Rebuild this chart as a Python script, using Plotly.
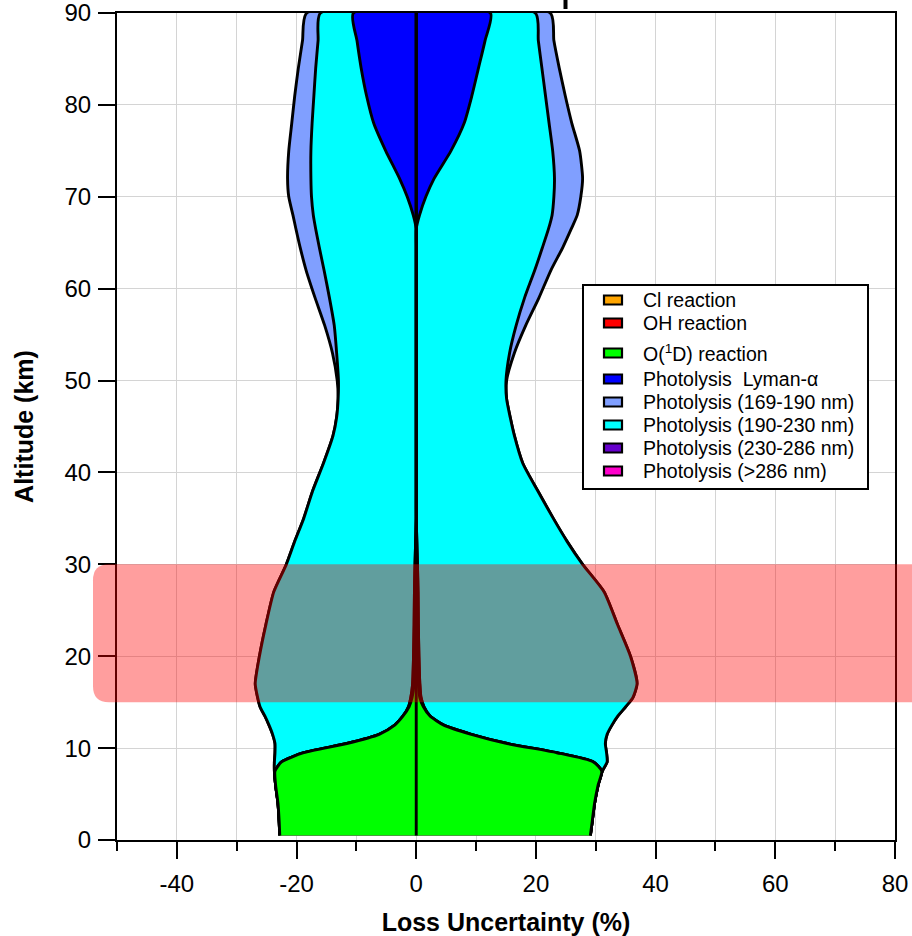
import numpy as np
import plotly.graph_objects as go

# ---------------- data ----------------
altitude_km = [0.5, 2, 4, 6, 7.5, 8.5, 9.5, 10.5, 11.5, 12.5, 13.5, 14.5, 15.5, 17, 20,
               23.5, 27, 30, 32.5, 35, 38, 41, 44, 46, 48, 50, 53, 56, 59, 62, 64.5,
               66.5, 68, 70, 72, 75, 78, 81, 84, 87, 90]

# contributions to the loss uncertainty (%), negative side (L) and positive side (R)
o1d_L = [22.8, 22.9, 23.1, 23.5, 23.6, 22.5, 18.8, 11.6, 6.2, 3.6, 2.2, 1.2, 0.7, 0.35,
         0.2, 0.1, 0.05] + [0] * 24
o1d_R = [29.1, 29.4, 29.8, 30.4, 31.0, 29.6, 23.5, 15.2, 9.2, 4.6, 2.3, 1.2, 0.6, 0.35,
         0.2, 0.1, 0.05] + [0] * 24
oh_L = [0] * 11 + [0.1, 0.2, 0.25, 0.25, 0.25, 0.25, 0.2, 0.1] + [0] * 22
oh_R = list(oh_L)
cl_L = [0] * 41
cl_R = [0] * 41
lya_L = [0] * 32 + [0.5, 1.5, 2.8, 5.1, 7.1, 8.3, 9.2, 9.9, 10.5]
lya_R = [0] * 32 + [0.55, 1.6, 3.0, 5.8, 8.0, 9.3, 10.4, 11.5, 12.4]
p190_230_L = [0, 0, 0, 0, 0.1, 1.2, 4.8, 12.0, 17.8, 21.0, 23.1, 24.8, 25.6, 26.3, 25.75,
              24.75, 23.5, 21.5, 20.2, 18.8, 17.3, 15.5, 13.9, 13.3, 13.05, 13.0, 13.3,
              13.7, 14.5, 15.4, 16.2, 16.8, 16.7, 16.0, 14.8, 12.5, 10.3, 8.8, 7.6, 6.5, 5.5]
p190_230_R = [0, 0, 0, 0, 0.1, 2.3, 8.3, 16.4, 22.7, 28.1, 31.4, 33.7, 35.4, 36.3, 35.35,
              33.25, 31.1, 27.6, 25.1, 22.9, 20.3, 17.8, 16.4, 15.7, 15.1, 15.0, 15.6,
              16.7, 18.1, 19.8, 21.1, 22.1, 22.15, 21.4, 20.1, 17.0, 14.2, 12.3, 10.6, 8.9, 7.5]
p169_190_L = [0] * 25 + [0.2, 0.7, 1.6, 2.4, 3.0, 3.2, 3.3, 3.4, 3.8, 3.9, 3.7, 3.4, 3.2,
                         2.9, 2.6, 2.3]
p169_190_R = [0] * 25 + [0.1, 0.8, 1.6, 2.4, 2.7, 3.4, 3.8, 4.2, 4.5, 4.7, 4.5, 3.8, 3.3,
                         2.9, 2.6, 2.5]
p230_286_L = [0] * 41
p230_286_R = [0] * 41
p286_L = [0] * 41
p286_R = [0] * 41

legend_names = ["Cl reaction", "OH reaction", "O(<sup>1</sup>D) reaction",
                "Photolysis\u00a0\u00a0Lyman-\u03b1", "Photolysis (169-190 nm)",
                "Photolysis (190-230 nm)", "Photolysis (230-286 nm)", "Photolysis (>286 nm)"]
legend_colors = ["#FFA500", "#FF0000", "#00FF00", "#0000FF", "#809FFF",
                 "#00FFFF", "#6600CC", "#FF00CC"]

x_ticks = [-40, -20, 0, 20, 40, 60, 80]
x_minor = [-50, -30, -10, 10, 30, 50, 70]
y_ticks = [0, 10, 20, 30, 40, 50, 60, 70, 80, 90]

# stacking order from the centre outwards
stack = [
    ("O(1D) reaction", o1d_L, o1d_R, "#00FF00"),
    ("OH reaction", oh_L, oh_R, "#FF0000"),
    ("Cl reaction", cl_L, cl_R, "#FFA500"),
    ("Photolysis Lyman-a", lya_L, lya_R, "#0000FF"),
    ("Photolysis (190-230 nm)", p190_230_L, p190_230_R, "#00FFFF"),
    ("Photolysis (169-190 nm)", p169_190_L, p169_190_R, "#809FFF"),
    ("Photolysis (230-286 nm)", p230_286_L, p230_286_R, "#6600CC"),
    ("Photolysis (>286 nm)", p286_L, p286_R, "#FF00CC"),
]

alt = np.array(altitude_km)
cumL = np.cumsum(np.array([s[1] for s in stack], dtype=float), axis=0)
cumR = np.cumsum(np.array([s[2] for s in stack], dtype=float), axis=0)

# ---------------- figure geometry ----------------
W, H = 912, 936
ML, MR, MT, MB = 117, 17, 13, 96
PW, PH = W - ML - MR, H - MT - MB


def px(x):
    return (x - ML) / PW


def py(y):
    return (H - MB - y) / PH


fig = go.Figure()

# paint from the outermost cumulative layer inwards
for k in range(len(stack) - 1, -1, -1):
    name, vL, vR, col = stack[k]
    if not any(v != 0 for v in vL + vR):
        continue
    xs = list(cumR[k]) + list(-cumL[k][::-1])
    ys = list(alt) + list(alt[::-1])
    fig.add_trace(go.Scatter(
        x=xs, y=ys, mode="lines", fill="toself", fillcolor=col,
        line=dict(color="black", width=2.9, shape="spline", smoothing=0.6),
        name=name, showlegend=False, hoverinfo="skip"))

# centre line
fig.add_trace(go.Scatter(x=[0, 0], y=[alt[0], alt[-1]], mode="lines",
                         line=dict(color="black", width=2.9), showlegend=False,
                         hoverinfo="skip"))

shapes = []
# highlighted altitude band (15-30 km), rounded on the left
x0, x1 = px(93), 1.04
y_lo, y_hi = 15 / 90, 30 / 90
rx, ry = 16 / PW, 16 / PH
path = (f"M {x0 + rx},{y_hi} L {x1},{y_hi} L {x1},{y_lo} L {x0 + rx},{y_lo} "
        f"Q {x0},{y_lo} {x0},{y_lo + ry} L {x0},{y_hi - ry} Q {x0},{y_hi} {x0 + rx},{y_hi} Z")
shapes.append(dict(type="path", xref="paper", yref="paper", path=path,
                   fillcolor="rgba(255,0,0,0.38)", line=dict(width=0), layer="above"))

# legend box
shapes.append(dict(type="rect", xref="paper", yref="paper",
                   x0=px(583), x1=px(868), y0=py(489), y1=py(285),
                   fillcolor="white", line=dict(color="black", width=2), layer="above"))
row_y = [300, 323, 353, 379, 402, 425, 448, 471]
annotations = []
for name, col, ry_ in zip(legend_names, legend_colors, row_y):
    shapes.append(dict(type="rect", xref="paper", yref="paper",
                       x0=px(604), x1=px(622), y0=py(ry_ + 4.5), y1=py(ry_ - 4.5),
                       fillcolor=col, line=dict(color="black", width=2.2), layer="above"))
    annotations.append(dict(xref="paper", yref="paper", x=px(641), y=py(ry_),
                            xanchor="left", yanchor="middle", text=name, showarrow=False,
                            font=dict(family="Liberation Sans, Arial", size=19.5, color="black")))

# small clipped mark above the frame
shapes.append(dict(type="line", xref="paper", yref="paper",
                   x0=px(565.5), x1=px(565.5), y0=py(9), y1=py(0),
                   line=dict(color="black", width=4)))

grid = "#d4d4d4"
fig.update_layout(
    width=W, height=H, margin=dict(l=ML, r=MR, t=MT, b=MB, autoexpand=False),
    paper_bgcolor="white", plot_bgcolor="white",
    shapes=shapes, annotations=annotations, showlegend=False,
    font=dict(family="Liberation Sans, Arial", color="black"),
    xaxis=dict(range=[-50, 80], tickvals=x_ticks, ticktext=[str(v) for v in x_ticks],
               ticks="outside", ticklen=17, tickwidth=2, tickcolor="black",
               showgrid=True, gridcolor=grid, gridwidth=1, zeroline=False,
               showline=True, linecolor="black", linewidth=2, mirror=True,
               tickfont=dict(size=24), ticklabelstandoff=4, automargin=False,
               ticklabeloverflow="allow",
               minor=dict(tickvals=x_minor, ticks="outside", ticklen=9, tickwidth=2,
                          tickcolor="black", showgrid=True, gridcolor=grid, gridwidth=1),
               title=dict(text="<b>Loss Uncertainty (%)</b>", font=dict(size=25), standoff=18)),
    yaxis=dict(range=[0, 90], tickvals=y_ticks, ticks="outside", ticklen=17, tickwidth=2,
               tickcolor="black", showgrid=True, gridcolor=grid, gridwidth=1,
               zeroline=False, showline=True, linecolor="black", linewidth=2, mirror=True,
               tickfont=dict(size=24), ticklabelstandoff=2, automargin=False,
               ticklabeloverflow="allow",
               title=dict(text="<b>Altitude (km)</b>", font=dict(size=25), standoff=24)),
)

fig.write_html("out.html", config={"displayModeBar": False},
               post_script="document.body.style.margin='0';document.body.style.padding='0';")
